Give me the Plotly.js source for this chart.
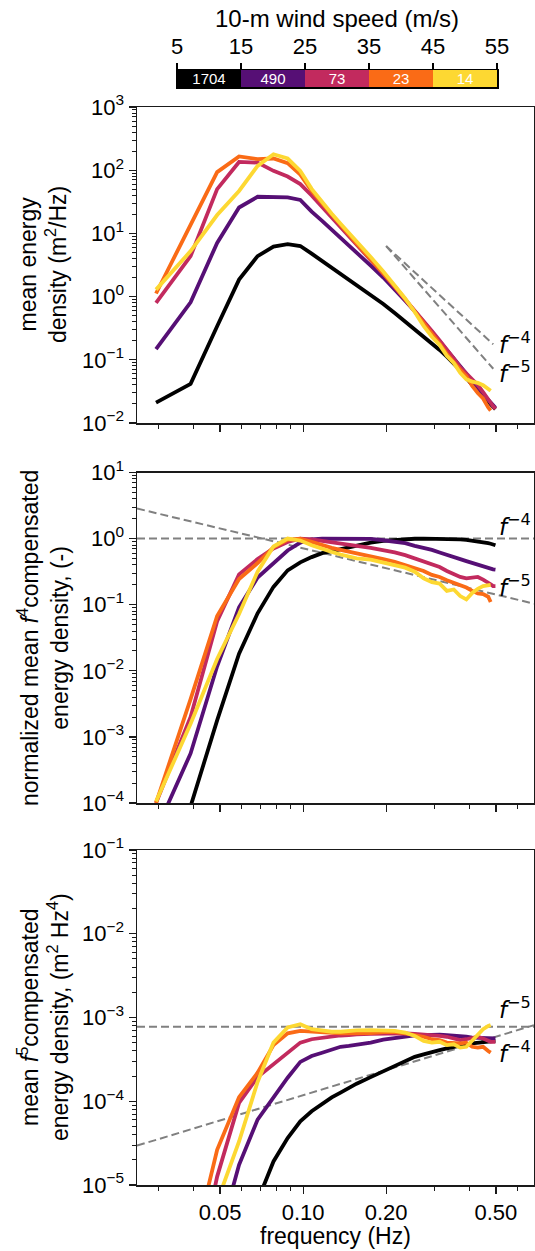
<!DOCTYPE html>
<html>
<head>
<meta charset="utf-8">
<script src="https://cdn.plot.ly/plotly-3.0.1.min.js"></script>
<style>
html, body { margin: 0; padding: 0; background: #ffffff; }
#chart { width: 535px; height: 1251px; }
</style>
</head>
<body>
<div id="chart"></div>
<script>
// ---------------- DATA ----------------
// frequency bins (Hz)
const freq = [0.0293, 0.0391, 0.0488, 0.0586, 0.0684, 0.0781, 0.0879, 0.0977, 0.1074, 0.1172,
              0.1270, 0.1367, 0.1465, 0.1563, 0.1758, 0.1953, 0.2148, 0.2344, 0.2539, 0.2734,
              0.2930, 0.3125, 0.3320, 0.3516, 0.3711, 0.3906, 0.4102, 0.4297, 0.4492, 0.4688,
              0.4785, 0.4883, 0.4980];

// wind-speed bins (colour bar)
const windEdges = [5, 15, 25, 35, 45, 55];
const windCounts = [1704, 490, 73, 23, 14];
const windLabels = ['5–15 m/s', '15–25 m/s', '25–35 m/s', '35–45 m/s', '45–55 m/s'];
const windColors = ['#000000', '#560f75', '#c22a5e', '#fa6b16', '#fdd832'];

// panel 1: mean energy density (m^2/Hz)
const energy5to15 = [0.021, 0.0416, 0.339, 1.86, 4.37, 6.17, 6.76, 6.31, 4.79, 3.68, 2.86, 2.28, 1.81, 1.48,
  1.05, 0.766, 0.551, 0.406, 0.304, 0.232, 0.181, 0.143, 0.112, 0.0871, 0.0686, 0.0513, 0.0398, 0.0316, 0.0263, 0.0219,
  0.0200, 0.0182, 0.0166];
const energy15to25 = [0.148, 0.813, 7.08, 25.7, 38.0, 38.0, 37.2, 33.9, 22.1, 15.8, 11.5, 8.51, 6.46, 5.01,
  3.09, 2.00, 1.32, 0.861, 0.589, 0.398, 0.279, 0.204, 0.148, 0.108, 0.0794, 0.0603, 0.0447, 0.0363, 0.0288, 0.0234,
  0.0214, 0.0195, 0.0174];
const energy25to35 = [0.794, 4.37, 50.1, 135, 132, 97.7, 79.4, 60.3, 39.8, 26.3, 18.2, 12.9, 9.12, 6.76,
  3.80, 2.29, 1.41, 0.912, 0.603, 0.412, 0.285, 0.202, 0.146, 0.105, 0.0759, 0.0603, 0.0495, 0.0398, 0.0309, 0.0232,
  0.0204, 0.0184, 0.0166];
const energy35to45 = [1.12, 13.2, 93.3, 165, 150, 153, 129, 85.1, 47.3, 29.9, 19.5, 13.5, 9.57, 6.93,
  3.89, 2.36, 1.46, 0.912, 0.585, 0.385, 0.255, 0.180, 0.124, 0.0912, 0.0697, 0.0551, 0.0385, 0.0298, 0.0244, 0.0176,
  0.0158];
const energy45to55 = [1.29, 5.24, 19.5, 47.0, 117, 179, 153, 97.5, 50.7, 31.3, 20.5, 14.2, 10.3, 7.52,
  4.22, 2.49, 1.51, 0.933, 0.571, 0.344, 0.232, 0.172, 0.116, 0.0891, 0.0621, 0.0491, 0.0452, 0.0431, 0.0396, 0.0352,
  0.0324];

// panel 2: normalized mean f^4-compensated energy density (-)
const norm5to15 = [1.17e-5, 8.9e-5, 1.78e-3, 0.0182, 0.0741, 0.186, 0.331, 0.437, 0.525, 0.603, 0.646, 0.692, 0.741, 0.794,
  0.871, 0.923, 0.955, 0.977, 0.995, 1.0, 1.0, 0.998, 0.995, 0.989, 0.973, 0.955, 0.933, 0.912, 0.881, 0.851,
  0.836, 0.818, 0.794];
const norm15to25 = [3.8e-5, 5.62e-4, 0.0117, 0.0912, 0.257, 0.417, 0.661, 0.871, 0.977, 1.0, 1.0, 1.0, 1.0, 1.0,
  0.989, 0.944, 0.902, 0.851, 0.776, 0.724, 0.676, 0.617, 0.562, 0.525, 0.490, 0.457, 0.427, 0.398, 0.372, 0.355,
  0.347, 0.343, 0.339];
const norm25to35 = [1.0e-4, 2.0e-3, 0.0562, 0.288, 0.490, 0.708, 0.891, 1.0, 0.977, 0.933, 0.891, 0.851, 0.813, 0.776,
  0.724, 0.676, 0.617, 0.562, 0.501, 0.457, 0.417, 0.372, 0.324, 0.295, 0.263, 0.251, 0.257, 0.263, 0.240, 0.219,
  0.204, 0.191, 0.191];
const norm35to45 = [1.0e-4, 3.72e-3, 0.0676, 0.245, 0.427, 0.741, 0.955, 1.0, 0.891, 0.794, 0.724, 0.676, 0.631, 0.603,
  0.537, 0.490, 0.447, 0.398, 0.363, 0.324, 0.282, 0.263, 0.234, 0.214, 0.200, 0.182, 0.162, 0.148, 0.145, 0.132,
  0.110];
const norm45to55 = [1.05e-4, 1.58e-3, 0.0151, 0.0724, 0.316, 0.759, 1.0, 0.933, 0.794, 0.692, 0.631, 0.575, 0.537, 0.501,
  0.479, 0.437, 0.398, 0.363, 0.316, 0.251, 0.219, 0.209, 0.162, 0.170, 0.135, 0.120, 0.151, 0.174, 0.191, 0.195,
  0.200];

// panel 3: mean f^5-compensated energy density (m^2 Hz^4)
const comp5to15 = [4.6e-10, 3.8e-9, 9.3e-8, 1.29e-6, 6.46e-6, 1.91e-5, 3.63e-5, 5.75e-5, 7.59e-5, 9.33e-5, 1.11e-4, 1.27e-4, 1.44e-4, 1.62e-4,
  1.94e-4, 2.26e-4, 2.63e-4, 3.02e-4, 3.39e-4, 3.63e-4, 3.89e-4, 4.07e-4, 4.27e-4, 4.47e-4, 4.62e-4, 4.79e-4, 4.90e-4, 5.01e-4, 5.13e-4, 5.19e-4,
  5.21e-4, 5.25e-4, 5.25e-4];
const comp15to25 = [3.2e-9, 7.4e-8, 1.95e-6, 1.74e-5, 6.03e-5, 1.12e-4, 1.91e-4, 2.95e-4, 3.47e-4, 3.80e-4, 4.17e-4, 4.47e-4, 4.57e-4, 4.68e-4,
  5.01e-4, 5.43e-4, 5.69e-4, 5.96e-4, 6.10e-4, 6.17e-4, 6.24e-4, 6.24e-4, 6.17e-4, 6.10e-4, 6.03e-4, 5.89e-4, 5.75e-4, 5.69e-4, 5.62e-4, 5.62e-4,
  5.62e-4, 5.62e-4, 5.62e-4];
const comp25to35 = [1.7e-8, 4.0e-7, 1.26e-5, 9.55e-5, 1.95e-4, 2.75e-4, 3.80e-4, 5.01e-4, 5.50e-4, 5.75e-4, 5.96e-4, 6.10e-4, 6.17e-4, 6.31e-4,
  6.38e-4, 6.46e-4, 6.46e-4, 6.46e-4, 6.38e-4, 6.31e-4, 6.17e-4, 6.03e-4, 5.89e-4, 5.62e-4, 5.37e-4, 5.50e-4, 5.75e-4, 5.89e-4, 5.62e-4, 5.25e-4,
  5.13e-4, 5.13e-4, 5.13e-4];
const comp35to45 = [2.4e-8, 1.2e-6, 2.63e-5, 1.12e-4, 2.19e-4, 4.68e-4, 6.46e-4, 6.92e-4, 6.76e-4, 6.61e-4, 6.46e-4, 6.46e-4, 6.46e-4, 6.46e-4,
  6.53e-4, 6.68e-4, 6.68e-4, 6.46e-4, 6.17e-4, 5.89e-4, 5.50e-4, 5.37e-4, 5.01e-4, 4.90e-4, 4.90e-4, 5.01e-4, 4.47e-4, 4.37e-4, 4.47e-4, 3.98e-4,
  3.80e-4];
const comp45to55 = [2.8e-8, 4.8e-7, 6.3e-6, 3.31e-5, 1.70e-4, 5.01e-4, 7.59e-4, 8.32e-4, 7.24e-4, 6.92e-4, 6.76e-4, 6.76e-4, 6.92e-4, 7.0e-4,
  7.08e-4, 7.08e-4, 6.92e-4, 6.61e-4, 6.03e-4, 5.25e-4, 5.01e-4, 5.13e-4, 4.68e-4, 4.79e-4, 4.37e-4, 4.47e-4, 5.25e-4, 6.31e-4, 7.24e-4, 7.94e-4,
  8.13e-4];

// reference power-law lines (end points)
const refP1Freq = [0.2, 0.489];
const refP1MinusFour = [6.3, 0.176];
const refP1MinusFive = [6.3, 0.0721];
const refWideFreq = [0.025, 0.687];
const refP2MinusFour = [1.0, 1.0];
const refP2MinusFive = [2.85, 0.1037];
const refP3MinusFive = [7.75e-4, 7.75e-4];
const refP3MinusFour = [2.95e-5, 8.1e-4];

// tick labels
const freqTickVals = [0.05, 0.1, 0.2, 0.5];
const freqTickText = ['0.05', '0.10', '0.20', '0.50'];
const freqMinorVals = [0.03, 0.04, 0.06, 0.07, 0.08, 0.09, 0.3, 0.4, 0.6];

// ---------------- LAYOUT HELPERS ----------------
const W = 535, H = 1251;
const fontFam = '"Liberation Sans", Arial, Helvetica, sans-serif';
const mathFam = '"DejaVu Sans", sans-serif';
const ink = '#1a1a1a';
const fx = p => p / W;
const fy = p => 1 - p / H;

function decadeTicks(lo, hi) {
  const vals = [], text = [], minor = [];
  for (let d = lo; d <= hi; d++) {
    vals.push(Math.pow(10, d));
    text.push('10<sup>' + (d < 0 ? '\u2212' + (-d) : d) + '</sup>');
    if (d < hi) for (let m = 2; m <= 9; m++) minor.push(m * Math.pow(10, d));
  }
  return {vals, text, minor};
}

const axisBase = {
  showline: true, linecolor: ink, linewidth: 1.5, mirror: true,
  ticks: 'outside', ticklen: 7, tickwidth: 1.2, tickcolor: ink,
  showgrid: false, zeroline: false,
  tickfont: {family: fontFam, size: 22, color: '#000'}
};

function xAxis(anchor, labels) {
  return Object.assign({}, axisBase, {
    type: 'log', anchor: anchor, domain: [fx(137), fx(534)],
    range: [Math.log10(0.025), Math.log10(0.687)],
    tickmode: 'array', tickvals: freqTickVals, ticktext: freqTickText,
    showticklabels: labels,
    minor: {tickmode: 'array', tickvals: freqMinorVals, ticks: 'outside', ticklen: 4, tickwidth: 1, tickcolor: ink, showgrid: false}
  });
}
function yAxis(anchor, lo, hi, topPx, botPx) {
  const t = decadeTicks(lo, hi);
  return Object.assign({}, axisBase, {
    type: 'log', anchor: anchor, domain: [fy(botPx), fy(topPx)],
    range: [lo, hi],
    tickmode: 'array', tickvals: t.vals, ticktext: t.text,
    minor: {tickmode: 'array', tickvals: t.minor, ticks: 'outside', ticklen: 4, tickwidth: 1, tickcolor: ink, showgrid: false}
  });
}

// ---------------- TRACES ----------------
const traces = [];
const dashStyle = {color: '#808080', width: 2, dash: '8px,4px'};
function refLine(x, y, ax) {
  traces.push({x: x, y: y, xaxis: 'x' + ax, yaxis: 'y' + ax, mode: 'lines', line: dashStyle, hoverinfo: 'skip', showlegend: false});
}
refLine(refP1Freq, refP1MinusFour, '');
refLine(refP1Freq, refP1MinusFive, '');
refLine(refWideFreq, refP2MinusFour, '2');
refLine(refWideFreq, refP2MinusFive, '2');
refLine(refWideFreq, refP3MinusFive, '3');
refLine(refWideFreq, refP3MinusFour, '3');

const panels = [
  {ax: '', data: [energy5to15, energy15to25, energy25to35, energy35to45, energy45to55]},
  {ax: '2', data: [norm5to15, norm15to25, norm25to35, norm35to45, norm45to55]},
  {ax: '3', data: [comp5to15, comp15to25, comp25to35, comp35to45, comp45to55]}
];
panels.forEach(p => {
  p.data.forEach((ys, i) => {
    traces.push({
      x: freq.slice(0, ys.length), y: ys, xaxis: 'x' + p.ax, yaxis: 'y' + p.ax,
      mode: 'lines', name: windLabels[i],
      line: {color: windColors[i], width: 3.8, shape: 'linear'},
      showlegend: false
    });
  });
});

// colour bar drawn as a bar chart on its own axis
traces.push({
  type: 'bar', orientation: 'h',
  y: windCounts.map(() => 0),
  x: windEdges.slice(1).map((e, i) => e - windEdges[i]),
  base: windEdges.slice(0, -1),
  width: windCounts.map(() => 1),
  marker: {color: windColors, line: {width: 0}},
  text: windCounts.map(String),
  textposition: 'inside', insidetextanchor: 'middle', constraintext: 'none', textangle: 0,
  textfont: {family: fontFam, size: 15, color: '#ffffff'},
  xaxis: 'x4', yaxis: 'y4', hoverinfo: 'skip', showlegend: false
});

// ---------------- ANNOTATIONS ----------------
const ann = [];
function label(text, xPx, yPx, opts) {
  ann.push(Object.assign({
    text: text, xref: 'paper', yref: 'paper', x: fx(xPx), y: fy(yPx),
    showarrow: false, xanchor: 'center', yanchor: 'middle',
    font: {family: fontFam, size: 23, color: '#000'}
  }, opts || {}));
}
// y-axis titles
label('mean energy<br>density (m<sup>2</sup>/Hz)', 43, 265, {textangle: -90});
label('normalized mean <i>f</i><sup>4</sup>compensated<br>energy density, (-)', 43, 638, {textangle: -90});
label('mean <i>f</i><sup>5</sup>compensated<br>energy density, (m<sup>2</sup> Hz<sup>4</sup>)', 43, 1017, {textangle: -90});
// x-axis title
label('frequency (Hz)', 335, 1236);
// colour-bar title
label('10-m wind speed (m/s)', 337, 19, {font: {family: fontFam, size: 24, color: '#000'}});
// power-law labels
const mathFont = {family: mathFam, size: 23, color: '#000'};
label('<i>f</i><sup>\u22124</sup>', 497, 343, {xanchor: 'left', font: mathFont});
label('<i>f</i><sup>\u22125</sup>', 497, 372, {xanchor: 'left', font: mathFont});
label('<i>f</i><sup>\u22124</sup>', 497, 525, {xanchor: 'left', font: mathFont});
label('<i>f</i><sup>\u22125</sup>', 497, 586, {xanchor: 'left', font: mathFont});
label('<i>f</i><sup>\u22125</sup>', 497, 1008, {xanchor: 'left', font: mathFont});
label('<i>f</i><sup>\u22124</sup>', 497, 1052, {xanchor: 'left', font: mathFont});

// ---------------- LAYOUT ----------------
const layout = {
  width: W, height: H,
  margin: {l: 0, r: 0, t: 0, b: 0, pad: 0},
  paper_bgcolor: '#ffffff', plot_bgcolor: '#ffffff',
  showlegend: false, barmode: 'overlay', bargap: 0,
  font: {family: fontFam, color: '#000'},
  xaxis: xAxis('y', false),
  yaxis: yAxis('x', -2, 3, 107, 423),
  xaxis2: xAxis('y2', false),
  yaxis2: yAxis('x2', -4, 1, 472.5, 803),
  xaxis3: xAxis('y3', true),
  yaxis3: yAxis('x3', -5, -1, 850, 1185),
  xaxis4: {
    anchor: 'y4', domain: [fx(177), fx(497)], side: 'top', range: [5, 55],
    tickmode: 'array', tickvals: windEdges, ticks: 'outside', ticklen: 6, tickwidth: 1.2, tickcolor: '#000',
    showline: true, linecolor: '#000', linewidth: 1.5, mirror: true, showgrid: false, zeroline: false,
    tickfont: {family: fontFam, size: 22, color: '#000'}, fixedrange: true
  },
  yaxis4: {
    anchor: 'x4', domain: [fy(87), fy(70)], range: [-0.5, 0.5],
    showticklabels: false, ticks: '', showline: true, linecolor: '#000', linewidth: 1.5, mirror: true,
    showgrid: false, zeroline: false, fixedrange: true
  },
  annotations: ann
};

Plotly.newPlot('chart', traces, layout, {staticPlot: true, displayModeBar: false});
</script>
</body>
</html>
